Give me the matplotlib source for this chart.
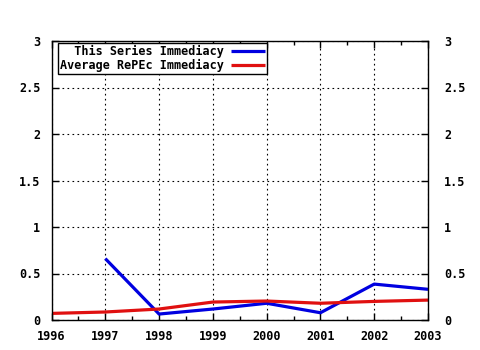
import matplotlib
matplotlib.use("Agg")
import matplotlib.pyplot as plt
from matplotlib.ticker import MultipleLocator

years_series = [1997, 1998, 1999, 2000, 2001, 2002, 2003]
series_vals = [0.66, 0.064, 0.118, 0.18, 0.078, 0.386, 0.33]
years_avg = [1996, 1997, 1998, 1999, 2000, 2001, 2002, 2003]
avg_vals = [0.071, 0.086, 0.118, 0.193, 0.204, 0.18, 0.20, 0.214]
label_series = "  This Series Immediacy"
label_avg = "Average RePEc Immediacy"
xticks = [1996, 1997, 1998, 1999, 2000, 2001, 2002, 2003]
yticks = [0, 0.5, 1, 1.5, 2, 2.5, 3]
ytick_labels = ["0", "0.5", "1", "1.5", "2", "2.5", "3"]

plt.rcParams['font.family'] = ['DejaVu Sans Mono']
plt.rcParams['font.weight'] = 'bold'
FS = 8.5

fig = plt.figure(figsize=(4.8, 3.5), dpi=100)
ax = fig.add_axes([51.5/480, 30/350, 376.5/480, 279/350])

ax.plot(years_series, series_vals, color='#0000e0', lw=2.3, label=label_series, solid_capstyle='butt')
ax.plot(years_avg, avg_vals, color='#e01010', lw=2.3, label=label_avg, solid_capstyle='butt')

ax.set_xlim(1996, 2003)
ax.set_ylim(0, 3)
ax.set_xticks(xticks)
ax.set_xticklabels([str(x) for x in xticks], fontsize=FS, fontweight='bold')
ax.set_yticks(yticks)
ax.set_yticklabels(ytick_labels, fontsize=FS, fontweight='bold')
ax.xaxis.set_minor_locator(MultipleLocator(0.5))

ax.grid(True, which='major', color='black', linestyle=(0, (1.5, 3)), linewidth=0.8)
ax.tick_params(axis='both', which='major', direction='in', length=5, width=1,
               top=True, right=True, labelright=True, labelleft=True, colors='black')
ax.tick_params(axis='x', which='major', pad=7)
ax.tick_params(axis='y', which='major', pad=8)
ax.tick_params(axis='x', which='minor', direction='in', length=3, width=1, top=True)
for lab in ax.get_yticklabels(which='major'):
    pass
ax.yaxis.set_tick_params(which='major', labelright=True)
for t in ax.yaxis.get_major_ticks():
    t.label2.set_fontsize(FS)
    t.label2.set_fontweight('bold')
    t.label2.set_horizontalalignment('left')
for sp in ax.spines.values():
    sp.set_linewidth(1)
    sp.set_color('black')

# right labels have wider gap
ax.tick_params(axis='y', which='major', labelright=True)
import matplotlib.transforms as mtrans
offset = mtrans.ScaledTranslation(5/100, 0, fig.dpi_scale_trans)
for t in ax.yaxis.get_major_ticks():
    t.label2.set_transform(t.label2.get_transform() + offset)

leg = ax.legend(loc='upper left', bbox_to_anchor=(6.5/376.5, 1 - 2/279), markerfirst=False,
                prop={'family': 'DejaVu Sans Mono', 'weight': 'bold', 'size': FS},
                frameon=True, fancybox=False, edgecolor='black', framealpha=1,
                handlelength=2.9, handletextpad=0.6, borderpad=0.15, labelspacing=0.1,
                borderaxespad=0)
leg.get_frame().set_linewidth(1)

fig.savefig("out.png", dpi=100)
